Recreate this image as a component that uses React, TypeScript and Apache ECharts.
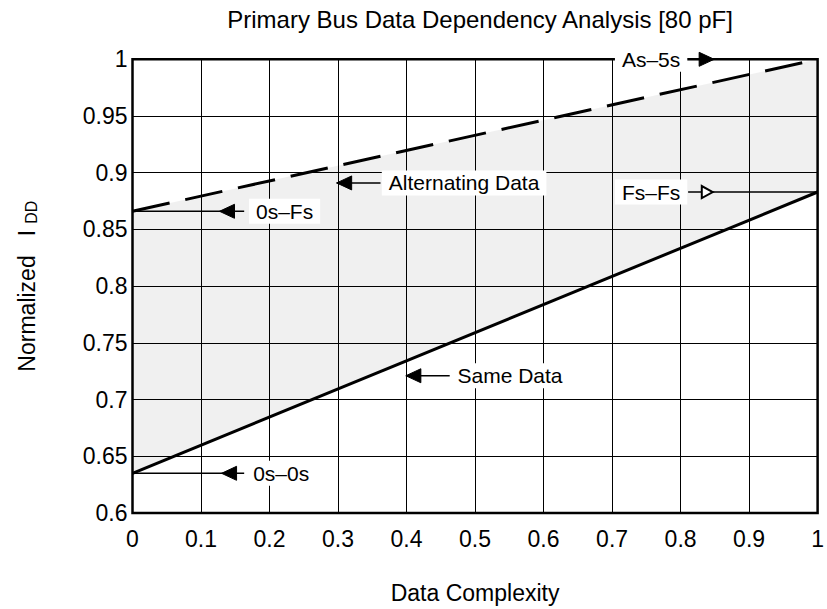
import React, { useEffect, useRef } from "react";
import * as echarts from "echarts";

const FONT = "Liberation Sans, Arial, Helvetica, sans-serif";

// Data
const complexity = [0, 1];
const sameData = [0.635, 0.883];
const alternatingData = [0.866, 1.0];

const titleText = "Primary Bus Data Dependency Analysis [80 pF]";
const xName = "Data Complexity";

// Annotations (in data units)
const annText = ["As–5s", "Fs–Fs", "0s–Fs", "Alternating Data", "Same Data", "0s–0s"];
const annY = [1.0, 0.883, 0.866, 0.891, 0.721, 0.635];
const annTextX = [0.757, 0.757, 0.222, 0.484, 0.551, 0.217];
const annLineFrom = [0.811, 0.811, 0, 0.298, 0.399, 0];
const annLineTo = [0.849, 1.0, 0.163, 0.362, 0.463, 0.163];
const annTipX = [0.849, 0.847, 0.127, 0.298, 0.399, 0.13];
const annDir = ["right", "right", "left", "left", "left", "left"];
const annFilled = [true, false, true, true, true, true];

export default function App() {
  const ref = useRef<HTMLDivElement>(null);

  useEffect(() => {
    if (!ref.current) return;
    const chart = echarts.init(ref.current, null, { renderer: "svg" });

    const option: any = {
      animation: false,
      backgroundColor: "#fff",
      textStyle: { fontFamily: FONT },
      grid: {
        left: 132.5,
        right: 4.5,
        top: 59.3,
        bottom: 96,
        show: true,
        borderColor: "#000",
        borderWidth: 2.5,
        backgroundColor: "transparent",
      },
      xAxis: {
        type: "value",
        min: 0,
        max: 1,
        interval: 0.1,
        name: xName,
        nameLocation: "middle",
        nameGap: 68,
        nameTextStyle: { fontSize: 23, color: "#000", fontFamily: FONT },
        axisLine: { show: false },
        axisTick: { show: false },
        axisLabel: { fontSize: 23, color: "#000", margin: 14, fontFamily: FONT },
        splitLine: { show: true, lineStyle: { color: "#000", width: 1 } },
      },
      yAxis: {
        type: "value",
        min: 0.6,
        max: 1,
        interval: 0.05,
        name: "Normalized   I{sub|DD}",
        nameLocation: "middle",
        nameGap: 93,
        nameTextStyle: {
          fontSize: 23,
          color: "#000",
          fontFamily: FONT,
          rich: {
            sub: { fontSize: 16, color: "#000", fontFamily: FONT, padding: [9, 0, 0, 6] },
          },
        },
        axisLine: { show: false },
        axisTick: { show: false },
        axisLabel: { fontSize: 23, color: "#000", margin: 5, fontFamily: FONT },
        splitLine: { show: true, lineStyle: { color: "#000", width: 1 } },
      },
      series: [
        {
          type: "custom",
          silent: true,
          z: 1,
          data: [[complexity[0], sameData[0]]],
          renderItem: (_params: any, api: any) => {
            const pts = [
              api.coord([complexity[0], sameData[0]]),
              api.coord([complexity[1], sameData[1]]),
              api.coord([complexity[1], alternatingData[1]]),
              api.coord([complexity[0], alternatingData[0]]),
            ];
            return {
              type: "polygon",
              shape: { points: pts },
              style: { fill: "rgba(0,0,0,0.06)", stroke: "none" },
            };
          },
        },
        {
          type: "line",
          name: "Same Data",
          symbol: "none",
          z: 3,
          data: complexity.map((x, i) => [x, sameData[i]]),
          lineStyle: { color: "#000", width: 3 },
        },
        {
          type: "line",
          name: "Alternating Data",
          symbol: "none",
          z: 3,
          data: complexity.map((x, i) => [x, alternatingData[i]]),
          lineStyle: { color: "#000", width: 3, type: [38, 16] },
        },
      ],
    };

    chart.setOption(option);

    const px = (x: number, y: number) =>
      chart.convertToPixel({ gridIndex: 0 } as any, [x, y]) as number[];

    const elements: any[] = [];
    const left = px(0, 1);
    const right = px(1, 1);
    elements.push({
      type: "text",
      z: 100,
      x: (left[0] + right[0]) / 2 + 5,
      y: 19,
      style: {
        text: titleText,
        fill: "#000",
        fontSize: 24,
        fontFamily: FONT,
        align: "center",
        verticalAlign: "middle",
        textAlign: "center",
        textVerticalAlign: "middle",
      },
    });

    for (let i = 0; i < annText.length; i++) {
      const y = annY[i];
      const p1 = px(annLineFrom[i], y);
      const p2 = px(annLineTo[i], y);
      const tip = px(annTipX[i], y);
      const tc = px(annTextX[i], y);
      const filled = annFilled[i];
      const L = filled ? 15 : 11;
      const H = filled ? 7 : 6;
      const s = annDir[i] === "right" ? -1 : 1;
      elements.push({
        type: "line",
        z: 100,
        shape: { x1: p1[0], y1: p1[1], x2: p2[0], y2: p2[1] },
        style: { stroke: "#000", lineWidth: 1.5 },
      });
      elements.push({
        type: "polygon",
        z: 101,
        shape: {
          points: [
            [tip[0], tip[1]],
            [tip[0] + s * L, tip[1] - H],
            [tip[0] + s * L, tip[1] + H],
          ],
        },
        style: filled
          ? { fill: "#000", stroke: "#000", lineWidth: 1 }
          : { fill: "#fff", stroke: "#000", lineWidth: 2 },
      });
      elements.push({
        type: "text",
        z: 102,
        x: tc[0],
        y: tc[1],
        style: {
          text: annText[i],
          fill: "#000",
          fontSize: 21,
          fontFamily: FONT,
          align: "center",
          verticalAlign: "middle",
          textAlign: "center",
          textVerticalAlign: "middle",
          backgroundColor: "#fff",
          padding: [2, 7],
        },
      });
    }

    chart.setOption({ graphic: { elements } });

    return () => chart.dispose();
  }, []);

  return (
    <div
      ref={ref}
      style={{ position: "fixed", left: 0, top: 0, width: 827, height: 609 }}
    />
  );
}
